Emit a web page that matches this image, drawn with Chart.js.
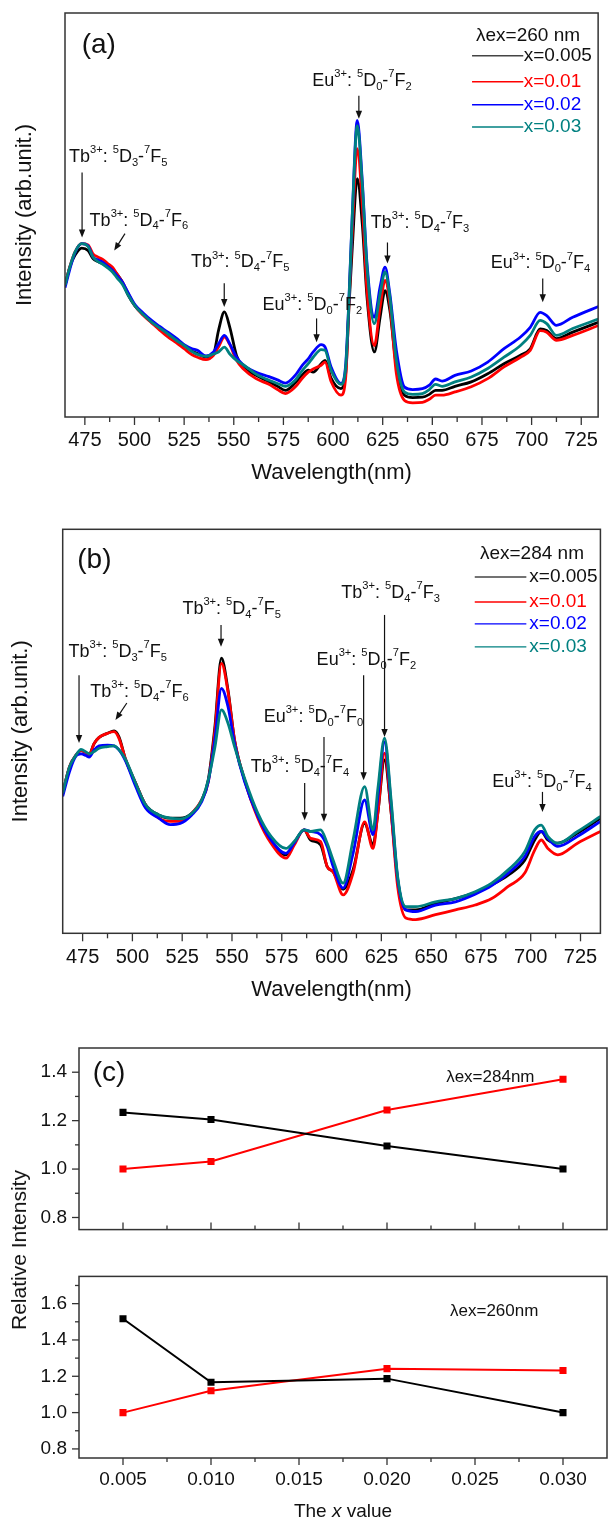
<!DOCTYPE html>
<html>
<head>
<meta charset="utf-8">
<script src="https://cdn.jsdelivr.net/npm/chart.js@4.4.1/dist/chart.umd.min.js"></script>
<style>
  html, body { margin: 0; padding: 0; background: #fff; overflow: hidden; }
  body { width: 609px; height: 1521px; position: relative; }
  .panel { position: absolute; left: 0; }
  .panel canvas { display: block; }
  #relLabel {
    position: absolute; left: 19px; top: 1250px;
    transform: translate(-50%, -50%) rotate(-90deg);
    font: 21px "Liberation Sans", Arial, sans-serif; color: #111; white-space: nowrap;
  }
</style>
</head>
<body>
<div class="panel" style="top:0"><canvas id="chartA" width="609" height="495"></canvas></div>
<div class="panel" style="top:495px"><canvas id="chartB" width="609" height="515"></canvas></div>
<div class="panel" style="top:1010px"><canvas id="chartC1" width="612" height="243"></canvas></div>
<div class="panel" style="top:1253px"><canvas id="chartC2" width="612" height="268"></canvas></div>
<div id="relLabel">Relative Intensity</div>

<script>
'use strict';

/* ── DATA ───────────────────────────────────────────── */

const SERIES_LABELS = ['x=0.005', 'x=0.01', 'x=0.02', 'x=0.03'];
const SERIES_COLORS = ['#000000', '#ff0000', '#0000ff', '#008080'];

// (a) λex = 260 nm, emission spectra (arb. units, 0..100 of the frame)
const WL_A = [465, 467.4, 470, 473.4, 476.6, 479.1, 481.5, 484, 486.5, 488.9, 491.3, 493.8, 497, 500.4, 504.5,
  508.6, 512.7, 516.8, 521, 525, 529, 531.7, 536, 539.8, 542.3, 545.3, 548, 551.4, 554.6, 561.2, 567.7, 572, 576,
  580.9, 584.5, 587.5, 590, 594, 596, 599, 604, 606.4, 608.1, 609.7, 612.2, 614.7, 617.1, 620.8, 623.7, 626.2,
  628.6, 631.9, 636, 640.1, 645, 648.5, 651.6, 654.9, 661.4, 669.6, 677.9, 686.1, 694.4, 699.3, 704.3, 707.6,
  712.5, 720.7, 734];
const A_X005 = [32.6, 37.1, 40.0, 41.8, 41.2, 39.2, 38.5, 38.0, 37.6, 36.7, 35.3, 33.5, 30.0, 27.4, 25.3, 23.5,
  22.0, 20.6, 19.1, 17.7, 16.3, 15.7, 14.8, 15.6, 21.4, 26.0, 22.2, 15.2, 12.4, 10.3, 8.7, 7.6, 6.6, 8.4, 10.4,
  11.6, 11.1, 13.2, 14.0, 9.6, 7.0, 11.0, 28, 42.1, 59.0, 47.9, 29.7, 16.1, 24.7, 31.3, 26.4, 12.4, 5.4, 4.8, 4.9,
  5.6, 6.6, 6.6, 7.6, 8.7, 10.7, 13.2, 15.3, 16.9, 21.8, 21.4, 19.4, 21.0, 23.5];
const A_X01 = [32.6, 37.1, 40.8, 42.9, 42.6, 40.4, 39.6, 39.0, 38.0, 37.1, 35.3, 33.5, 30.4, 27.4, 25.1, 23.3,
  21.5, 19.8, 18.4, 16.9, 15.4, 14.8, 14.2, 15.3, 17.3, 19.8, 17.9, 14.0, 12.0, 9.5, 8.1, 6.8, 5.8, 7.4, 9.6,
  11.1, 11.9, 12.8, 13.6, 8.8, 5.4, 10.0, 29, 46.2, 66.4, 52.8, 31.4, 17.7, 27.2, 33.8, 28.0, 10.7, 4.1, 3.5, 3.6,
  4.4, 5.4, 5.4, 6.2, 7.5, 9.5, 12.4, 14.8, 16.5, 21.4, 21.0, 19.0, 20.2, 22.7];
const A_X02 = [32.0, 36.5, 40.6, 42.9, 42.4, 39.6, 38.9, 38.3, 37.3, 36.3, 34.9, 33.5, 30.6, 27.7, 25.7, 23.9,
  22.4, 21.0, 19.5, 17.9, 16.9, 16.5, 15.1, 16.1, 18.1, 20.2, 18.1, 14.8, 13.0, 11.1, 10.0, 9.2, 8.4, 10.3, 12.8,
  14.4, 16.1, 17.9, 17.3, 12.4, 8.3, 13.2, 30.5, 50.3, 73.4, 58.6, 38.0, 24.7, 32.2, 37.1, 30.5, 16.5, 7.4, 6.8,
  7.0, 7.9, 9.4, 8.9, 10.3, 11.4, 13.6, 16.9, 19.8, 22.2, 25.9, 25.1, 22.7, 24.7, 27.4];
const A_X03 = [32.6, 37.1, 40.8, 42.9, 42.2, 39.6, 38.5, 37.8, 36.9, 35.9, 34.4, 32.9, 30.0, 27.4, 25.3, 23.5,
  22.0, 20.6, 19.0, 17.7, 16.2, 15.5, 15.0, 15.6, 16.1, 17.3, 15.6, 14.0, 13.0, 10.6, 9.1, 8.3, 7.6, 9.1, 11.5,
  13.2, 14.8, 16.7, 16.5, 11.6, 8.1, 12.6, 30, 50, 72.1, 57.8, 37.1, 23.1, 30.5, 35.9, 29.7, 14.0, 6.2, 5.6, 5.8,
  6.8, 8.1, 7.6, 8.7, 9.9, 12.0, 14.8, 17.7, 20.2, 23.9, 23.1, 20.2, 21.9, 24.3];

// (b) λex = 284 nm
const WL_B = [465, 468.4, 471.7, 474.2, 476.7, 478.3, 480.8, 483.3, 487.5, 490.8, 493.3, 496.6, 501.6, 506.6,
  513.2, 519, 524, 529.8, 534.8, 538.1, 541.4, 544.7, 548, 551.3, 556.3, 563, 569.6, 577.1, 581.2, 586.2, 589.5,
  594.5, 597.8, 600.8, 605.8, 610.8, 616.6, 620.8, 623.3, 626.6, 629.9, 633.2, 637.3, 642.3, 652.2, 662.2, 672.1,
  680.4, 688.7, 697, 702, 705.3, 708.6, 713.6, 723.5, 735];
const B_X005 = [34.7, 41.2, 44.1, 45.2, 44.7, 44.4, 47.0, 48.5, 49.5, 50.1, 48.6, 43.0, 37.2, 31.8, 29.3, 28.5,
  28.5, 29.7, 33.0, 38.0, 51, 68.1, 60.2, 47.8, 38.0, 29.0, 23.1, 19.4, 22.3, 25.6, 23.1, 21.9, 16.5, 15.2, 10.9,
  15.7, 27.2, 21.9, 30, 42.9, 30, 13.2, 5.8, 5.8, 7.4, 8.6, 10.1, 12.0, 14.4, 18.1, 23.1, 25.2, 23.1, 22.3, 24.8, 28.5];
const B_X01 = [34.7, 41.2, 44.1, 45.2, 44.7, 44.2, 47.0, 48.5, 49.5, 49.9, 48.2, 43.0, 37.2, 31.8, 28.5, 27.7,
  27.7, 29.7, 33.0, 37.5, 50, 66.8, 59.8, 47.8, 38.0, 28.5, 22.3, 18.6, 21.8, 25.6, 23.5, 22.7, 16.5, 15.2, 9.5,
  14.9, 27.6, 21.0, 30, 44.6, 30, 11.5, 3.8, 3.4, 4.6, 5.8, 7.0, 8.6, 11.6, 14.9, 20.6, 23.1, 21.0, 19.4, 22.3, 25.2];
const B_X02 = [33.9, 40.0, 43.9, 44.4, 44.0, 43.6, 45.4, 46.4, 46.6, 46.4, 45.4, 42.6, 36.4, 31.0, 28.5, 26.9,
  27.2, 29.3, 32.6, 37.5, 48, 60.6, 56.1, 47.0, 37.6, 29.0, 23.1, 19.8, 22.3, 25.6, 25.2, 24.4, 21.5, 16.5, 11.2,
  19.8, 33.0, 24.4, 34, 47.4, 32, 13.5, 5.8, 5.4, 7.0, 7.8, 9.7, 11.8, 14.9, 19.0, 24.0, 25.2, 23.5, 21.5, 24.0, 27.7];
const B_X03 = [34.7, 41.2, 44.1, 45.5, 44.9, 44.4, 45.0, 45.8, 46.2, 46.4, 45.4, 43.0, 37.2, 31.8, 29.3, 28.5,
  28.3, 29.7, 33.0, 38.0, 46, 55.3, 52.0, 46.2, 38.4, 29.7, 24.0, 21.0, 22.7, 25.6, 25.2, 25.6, 22.3, 18.1, 12.4,
  23.1, 36.3, 25.6, 36, 48.3, 33, 14.0, 6.6, 6.6, 7.8, 8.6, 10.3, 12.4, 15.7, 20.2, 25.6, 26.8, 24.0, 22.3, 25.2, 28.9];

// (c) relative intensity vs x
const X_C = [0.005, 0.010, 0.020, 0.030];
const C284_BLACK = [1.234, 1.205, 1.095, 1.0];
const C284_RED = [1.0, 1.031, 1.244, 1.371];
const C260_BLACK = [1.517, 1.167, 1.187, 1.0];
const C260_RED = [1.0, 1.12, 1.242, 1.232];

// tick labels
const WL_MAJOR = [475, 500, 525, 550, 575, 600, 625, 650, 675, 700, 725];
const WL_MINOR = [487.5, 512.5, 537.5, 562.5, 587.5, 612.5, 637.5, 662.5, 687.5, 712.5];
const XC_MAJOR = [0.005, 0.010, 0.015, 0.020, 0.025, 0.030];
const XC_MINOR = [0.0075, 0.0125, 0.0175, 0.0225, 0.0275];
const YC1_MAJOR = [0.8, 1.0, 1.2, 1.4];
const YC1_MINOR = [0.9, 1.1, 1.3];
const YC2_MAJOR = [0.8, 1.0, 1.2, 1.4, 1.6];
const YC2_MINOR = [0.9, 1.1, 1.3, 1.5, 1.7];

/* ── STYLE ──────────────────────────────────────────── */

const FONT = '"Liberation Sans", Arial, Helvetica, sans-serif';
const INK = '#111';
const FRAME = '#333';

// annotation labels, in data units of each panel
const NOTES_A = [
  { x: 467.0, y: 64.4, text: 'Tb^{3+}: ^{5}D_{3}-^{7}F_{5}', arrow: [473.6, 60.5, 473.6, 44.4] },
  { x: 477.4, y: 48.6, text: 'Tb^{3+}: ^{5}D_{4}-^{7}F_{6}', arrow: [495.2, 45.4, 489.8, 41.2] },
  { x: 528.4, y: 38.3, text: 'Tb^{3+}: ^{5}D_{4}-^{7}F_{5}', arrow: [545.2, 33.1, 545.2, 27.2] },
  { x: 564.5, y: 27.7, text: 'Eu^{3+}: ^{5}D_{0}-^{7}F_{2}', arrow: [591.7, 24.4, 591.7, 18.5] },
  { x: 589.5, y: 83.2, text: 'Eu^{3+}: ^{5}D_{0}-^{7}F_{2}', arrow: [613.0, 79.5, 613.0, 73.8] },
  { x: 619.0, y: 48.1, text: 'Tb^{3+}: ^{5}D_{4}-^{7}F_{3}', arrow: [627.4, 43.2, 627.4, 38.0] },
  { x: 679.4, y: 38.0, text: 'Eu^{3+}: ^{5}D_{0}-^{7}F_{4}', arrow: [705.6, 34.3, 705.6, 28.4] },
  { x: 473.4, y: 91.9, text: '(a)', size: 28 },
];
const NOTES_B = [
  { x: 467.9, y: 69.6, text: 'Tb^{3+}: ^{5}D_{3}-^{7}F_{5}', arrow: [473.2, 63.9, 473.2, 47.1] },
  { x: 478.8, y: 59.7, text: 'Tb^{3+}: ^{5}D_{4}-^{7}F_{6}', arrow: [497.2, 57.0, 491.5, 52.8] },
  { x: 525.1, y: 80.3, text: 'Tb^{3+}: ^{5}D_{4}-^{7}F_{5}', arrow: [544.5, 76.3, 544.5, 70.9] },
  { x: 565.9, y: 53.5, text: 'Eu^{3+}: ^{5}D_{0}-^{7}F_{0}', arrow: [596.2, 48.6, 596.2, 27.6] },
  { x: 559.4, y: 41.2, text: 'Tb^{3+}: ^{5}D_{4}-^{7}F_{4}', arrow: [586.5, 37.2, 586.5, 28.0] },
  { x: 592.5, y: 67.6, text: 'Eu^{3+}: ^{5}D_{0}-^{7}F_{2}', arrow: [616.1, 63.9, 616.1, 37.9] },
  { x: 604.9, y: 84.2, text: 'Tb^{3+}: ^{5}D_{4}-^{7}F_{3}', arrow: [626.6, 78.8, 626.6, 48.6] },
  { x: 680.7, y: 37.5, text: 'Eu^{3+}: ^{5}D_{0}-^{7}F_{4}', arrow: [705.9, 35.0, 705.9, 30.0] },
  { x: 472.3, y: 92.4, text: '(b)', size: 28 },
];
const NOTES_C1 = [
  { x: 0.00328, y: 1.395, text: '(c)', size: 28 },
  { x: 0.02336, y: 1.38, text: 'λex=284nm', size: 17 },
];
const NOTES_C2 = [
  { x: 0.02358, y: 1.555, text: 'λex=260nm', size: 17 },
];

const LEGEND_A = { title: 'λex=260 nm', tx: 672.0, ty: 94.3, x1: 670.0, x2: 695.8, lx: 696.0, rows: [89.4, 83.0, 77.3, 71.8] };
const LEGEND_B = { title: 'λex=284 nm', tx: 674.5, ty: 93.9, x1: 671.9, x2: 697.8, lx: 699.3, rows: [88.2, 82.0, 76.6, 70.9] };

/* ── DRAW HELPERS ───────────────────────────────────── */

// text with ^{sup} and _{sub} parts, left aligned, vertically centred at y
function drawRich(ctx, text, x, y, size, color) {
  const re = /(\^\{[^}]*\}|_\{[^}]*\}|[^^_]+)/g;
  let m, cx = x;
  ctx.fillStyle = color;
  ctx.textAlign = 'left';
  ctx.textBaseline = 'middle';
  while ((m = re.exec(text))) {
    let s = m[0], fs = size, dy = 0;
    if (s[0] === '^') { s = s.slice(2, -1); fs = size * 0.62; dy = -size * 0.38; }
    else if (s[0] === '_') { s = s.slice(2, -1); fs = size * 0.62; dy = size * 0.32; }
    ctx.font = `${fs}px ${FONT}`;
    ctx.fillText(s, cx, y + dy);
    cx += ctx.measureText(s).width;
  }
}

function drawArrow(ctx, x1, y1, x2, y2) {
  const ang = Math.atan2(y2 - y1, x2 - x1), L = 8, W = 3.2;
  const c = Math.cos(ang), s = Math.sin(ang);
  ctx.strokeStyle = INK; ctx.fillStyle = INK; ctx.lineWidth = 1.2;
  ctx.beginPath(); ctx.moveTo(x1, y1); ctx.lineTo(x2 - c * L * 0.7, y2 - s * L * 0.7); ctx.stroke();
  ctx.beginPath();
  ctx.moveTo(x2, y2);
  ctx.lineTo(x2 - L * c + W * s, y2 - L * s - W * c);
  ctx.lineTo(x2 - L * c - W * s, y2 - L * s + W * c);
  ctx.closePath(); ctx.fill();
}

// frame, tick marks, annotations, legend
const decor = (cfg) => ({
  id: 'decor',
  afterDatasetsDraw(chart) {
    const { ctx, chartArea: a, scales: { x, y } } = chart;
    ctx.save();
    ctx.strokeStyle = FRAME;
    ctx.lineWidth = 1.5;
    ctx.strokeRect(a.left, a.top, a.right - a.left, a.bottom - a.top);

    ctx.lineWidth = 1.3;
    x.ticks.forEach(t => {
      const len = cfg.xMajor.includes(t.value) ? cfg.tick[0] : cfg.tick[1];
      const px = x.getPixelForValue(t.value);
      ctx.beginPath();
      ctx.moveTo(px, a.bottom);
      ctx.lineTo(px, a.bottom + (cfg.xIn ? -len : len));
      ctx.stroke();
    });
    if (cfg.yMajor) {
      y.ticks.forEach(t => {
        const len = cfg.yMajor.includes(t.value) ? cfg.tick[0] : cfg.tick[1];
        const py = y.getPixelForValue(t.value);
        ctx.beginPath(); ctx.moveTo(a.left, py); ctx.lineTo(a.left - len, py); ctx.stroke();
      });
    }

    (cfg.notes || []).forEach(n => {
      if (n.arrow) {
        drawArrow(ctx, x.getPixelForValue(n.arrow[0]), y.getPixelForValue(n.arrow[1]),
          x.getPixelForValue(n.arrow[2]), y.getPixelForValue(n.arrow[3]));
      }
      drawRich(ctx, n.text, x.getPixelForValue(n.x), y.getPixelForValue(n.y), n.size || 18, INK);
    });

    const lg = cfg.legend;
    if (lg) {
      drawRich(ctx, lg.title, x.getPixelForValue(lg.tx), y.getPixelForValue(lg.ty), 19, INK);
      lg.rows.forEach((ry, i) => {
        const py = y.getPixelForValue(ry);
        ctx.strokeStyle = i === 0 ? '#444' : SERIES_COLORS[i]; ctx.lineWidth = 1.4;
        ctx.beginPath(); ctx.moveTo(x.getPixelForValue(lg.x1), py); ctx.lineTo(x.getPixelForValue(lg.x2), py); ctx.stroke();
        drawRich(ctx, SERIES_LABELS[i], x.getPixelForValue(lg.lx), py, 19, i === 0 ? INK : SERIES_COLORS[i]);
      });
    }

    if (cfg.xTitle) {
      const cy = a.bottom + cfg.xTitle.dy;
      const parts = [['The ', 'normal'], ['x', 'italic'], [' value', 'normal']];
      let w = 0;
      parts.forEach(p => { ctx.font = `${p[1]} 19px ${FONT}`; w += ctx.measureText(p[0]).width; });
      let cx = (a.left + a.right) / 2 - w / 2;
      ctx.fillStyle = INK; ctx.textAlign = 'left'; ctx.textBaseline = 'middle';
      parts.forEach(p => { ctx.font = `${p[1]} 19px ${FONT}`; ctx.fillText(p[0], cx, cy); cx += ctx.measureText(p[0]).width; });
    }
    ctx.restore();
  }
});

/* ── CHARTS ─────────────────────────────────────────── */

const spectrum = (id, wl, series, box, notes, legend) => new Chart(document.getElementById(id), {
  type: 'line',
  data: {
    datasets: series.map((vals, i) => ({
      label: SERIES_LABELS[i],
      data: wl.map((w, k) => ({ x: w, y: vals[k] })),
      borderColor: SERIES_COLORS[i],
      borderWidth: 2.8,
      pointRadius: 0,
      cubicInterpolationMode: 'monotone',
      fill: false,
      order: series.length - i,
    })),
  },
  options: {
    responsive: false,
    animation: false,
    devicePixelRatio: 1,
    layout: { padding: { top: box.top, right: box.right, left: 0, bottom: 0 } },
    plugins: { legend: { display: false }, tooltip: { enabled: false } },
    scales: {
      x: {
        type: 'linear', min: box.xmin, max: box.xmax,
        border: { display: false },
        grid: { display: false, drawTicks: false },
        afterBuildTicks: s => { s.ticks = [...WL_MAJOR, ...WL_MINOR].sort((p, q) => p - q).map(v => ({ value: v })); },
        afterFit: s => { s.height = box.xh; },
        ticks: {
          autoSkip: false, maxRotation: 0, padding: box.tpad, color: INK,
          font: { family: FONT, size: 20 },
          callback: v => (WL_MAJOR.includes(v) ? String(v) : ''),
        },
        title: { display: true, text: 'Wavelength(nm)', color: INK, font: { family: FONT, size: 22 }, padding: { top: 0, bottom: box.xtpad } },
      },
      y: {
        min: 0, max: 100,
        border: { display: false },
        grid: { display: false, drawTicks: false },
        ticks: { display: false },
        afterFit: s => { s.width = box.yw; },
        title: { display: true, text: 'Intensity (arb.unit.)', color: INK, font: { family: FONT, size: 22 }, padding: { top: box.ytpad, bottom: 0 } },
      },
    },
  },
  plugins: [decor({ xMajor: WL_MAJOR, tick: [8, 5], xIn: false, notes, legend })],
});

spectrum('chartA', WL_A, [A_X005, A_X01, A_X02, A_X03],
  { top: 13, right: 2, xmin: 465, xmax: 733.5, xh: 78, tpad: 11, xtpad: 8.8, yw: 65, ytpad: 11.8 },
  NOTES_A, LEGEND_A);

spectrum('chartB', WL_B, [B_X005, B_X01, B_X02, B_X03],
  { top: 34.3, right: 3, xmin: 465, xmax: 735, xh: 76.7, tpad: 11.7, xtpad: 6.8, yw: 62.7, ytpad: 7.8 },
  NOTES_B, LEGEND_B);

const ratio = (id, black, red, box, yMajor, yMinor, notes, showX) => new Chart(document.getElementById(id), {
  type: 'line',
  data: {
    datasets: [black, red].map((vals, i) => ({
      data: X_C.map((x, k) => ({ x, y: vals[k] })),
      borderColor: i ? '#ff0000' : '#000000',
      backgroundColor: i ? '#ff0000' : '#000000',
      borderWidth: 2,
      pointStyle: 'rect',
      pointRadius: 5,
      pointBorderWidth: 0,
      tension: 0,
      fill: false,
    })),
  },
  options: {
    responsive: false,
    animation: false,
    devicePixelRatio: 1,
    layout: { padding: { top: box.top, right: 2, left: 0, bottom: 0 } },
    plugins: { legend: { display: false }, tooltip: { enabled: false } },
    scales: {
      x: {
        type: 'linear', min: 0.0025, max: 0.0325,
        border: { display: false },
        grid: { display: false, drawTicks: false },
        afterBuildTicks: s => { s.ticks = [...XC_MAJOR, ...XC_MINOR].sort((p, q) => p - q).map(v => ({ value: v })); },
        afterFit: s => { s.height = box.xh; },
        ticks: {
          display: showX, autoSkip: false, maxRotation: 0, padding: 10.6, color: INK,
          font: { family: FONT, size: 19 },
          callback: v => (XC_MAJOR.includes(v) ? v.toFixed(3) : ''),
        },
      },
      y: {
        min: box.ymin, max: box.ymax,
        border: { display: false },
        grid: { display: false, drawTicks: false },
        afterBuildTicks: s => { s.ticks = [...yMajor, ...yMinor].sort((p, q) => p - q).map(v => ({ value: v })); },
        afterFit: s => { s.width = 79; },
        ticks: {
          autoSkip: false, padding: 12, color: INK,
          font: { family: FONT, size: 19 },
          callback: v => (yMajor.includes(v) ? v.toFixed(1) : ''),
        },
      },
    },
  },
  plugins: [decor({ xMajor: XC_MAJOR, yMajor, tick: [7, 4], xIn: !showX, notes, xTitle: showX ? { dy: 54 } : null })],
});

ratio('chartC1', C284_BLACK, C284_RED, { top: 38, xh: 5, ymin: 0.75, ymax: 1.5 }, YC1_MAJOR, YC1_MINOR, NOTES_C1, false);
ratio('chartC2', C260_BLACK, C260_RED, { top: 5, xh: 63, ymin: 0.75, ymax: 1.75 }, YC2_MAJOR, YC2_MINOR, NOTES_C2, true);
</script>
</body>
</html>
